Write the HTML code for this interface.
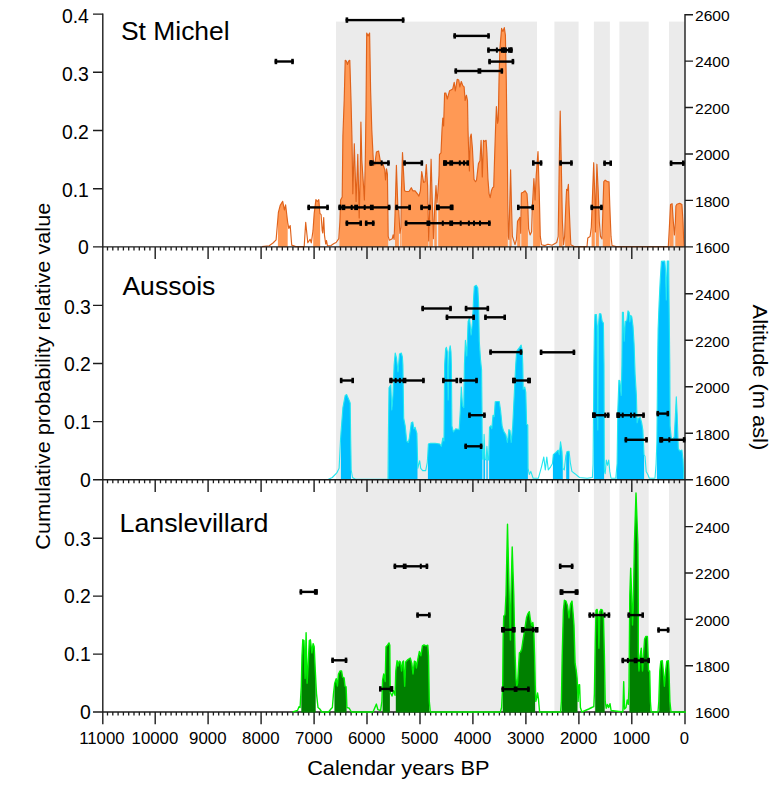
<!DOCTYPE html>
<html><head><meta charset="utf-8"><title>Cumulative probability</title>
<style>html,body{margin:0;padding:0;background:#fff}svg{display:block}</style>
</head><body>
<svg width="781" height="789" viewBox="0 0 781 789">
<rect x="0" y="0" width="781" height="789" fill="#ffffff"/>
<g fill="#ebebeb">
<rect x="336" y="21.6" width="201" height="690.4"/>
<rect x="554.4" y="21.6" width="24.2" height="690.4"/>
<rect x="593.9" y="21.6" width="16" height="690.4"/>
<rect x="619.4" y="21.6" width="29.3" height="690.4"/>
<rect x="669" y="21.6" width="15.9" height="690.4"/>
</g>
<defs>
<clipPath id="c0">
<rect x="277.9" y="0" width="9.8" height="789"/>
<rect x="313.2" y="0" width="7" height="789"/>
<rect x="339.4" y="0" width="48.8" height="789"/>
<rect x="395" y="0" width="3.9" height="789"/>
<rect x="400.1" y="0" width="0.8" height="789"/>
<rect x="401.4" y="0" width="27" height="789"/>
<rect x="429.2" y="0" width="3.7" height="789"/>
<rect x="434.3" y="0" width="2.5" height="789"/>
<rect x="438.2" y="0" width="69.6" height="789"/>
<rect x="509.5" y="0" width="2.2" height="789"/>
<rect x="517.2" y="0" width="3.1" height="789"/>
<rect x="521.3" y="0" width="6.6" height="789"/>
<rect x="533.1" y="0" width="7.2" height="789"/>
<rect x="559" y="0" width="3.6" height="789"/>
<rect x="565.1" y="0" width="5.2" height="789"/>
<rect x="591.6" y="0" width="3.2" height="789"/>
<rect x="595.9" y="0" width="3" height="789"/>
<rect x="602.8" y="0" width="7.6" height="789"/>
<rect x="669.3" y="0" width="4.2" height="789"/>
<rect x="675.3" y="0" width="8.2" height="789"/>
</clipPath>
<clipPath id="c1">
<rect x="340.9" y="0" width="10.1" height="789"/>
<rect x="388.2" y="0" width="29.3" height="789"/>
<rect x="427.9" y="0" width="54.5" height="789"/>
<rect x="483.4" y="0" width="1.6" height="789"/>
<rect x="486.4" y="0" width="1.3" height="789"/>
<rect x="489.1" y="0" width="38.8" height="789"/>
<rect x="552.9" y="0" width="9.9" height="789"/>
<rect x="566.2" y="0" width="3.1" height="789"/>
<rect x="593.8" y="0" width="10.3" height="789"/>
<rect x="616.6" y="0" width="27.5" height="789"/>
<rect x="656.8" y="0" width="26.8" height="789"/>
</clipPath>
<clipPath id="c2">
<rect x="301.3" y="0" width="14.4" height="789"/>
<rect x="334.4" y="0" width="12.2" height="789"/>
<rect x="382.6" y="0" width="7.3" height="789"/>
<rect x="395.8" y="0" width="33.5" height="789"/>
<rect x="502.7" y="0" width="32.4" height="789"/>
<rect x="561.7" y="0" width="15.8" height="789"/>
<rect x="595.2" y="0" width="9.5" height="789"/>
<rect x="629.4" y="0" width="21" height="789"/>
<rect x="659.2" y="0" width="10.7" height="789"/>
</clipPath>
</defs>
<polygon points="262,247.2 262,246.6 269.2,245.8 273,243 276.1,239.9 278.4,212.3 280.2,205.4 282.7,201.3 284.4,210 285.6,204.8 287.7,222.6 288.8,228.4 290.2,225.5 291.7,245.1 295.7,246.6 304.2,246.6 304.6,240 305.7,222.4 307.8,242.8 310.1,239.3 311.3,242.8 313,230.7 314.2,213.4 315.9,199.6 317.3,201.5 318.8,199.6 319.9,213.4 321.1,214.6 322.2,230.7 322.8,233 323.7,217.5 324.5,235.3 325.7,244 326.5,240.5 327.4,245.7 331,245.5 334,243.5 336.1,242.5 338.8,238.7 339.9,221.2 340.6,199.9 342.2,196.9 342.9,136 344.2,100 345.2,60.3 346.3,61 347.5,64.5 348.7,61 349.8,60.3 351,100 352,140 352.8,193.8 354.3,143.7 356.1,201.4 357.8,154.3 359.2,218 360.3,170 360.9,122.1 361.8,160 363.2,181 364.4,200 365.3,160 366,110 366.7,33 368.1,36 369.6,33 370.6,90 371.8,130 373.3,160.4 374.8,165 376.4,152 378.6,151 380.2,160.4 382.4,162.7 384.7,169.5 385.5,180 386.5,168.8 387.4,174 388.2,236.4 389.3,240.2 392.3,238.7 393.1,234.9 394.1,239.4 395,215 396.4,165.3 397.9,209 398.8,210.5 399.9,233.3 401,227.3 401.4,190.8 402.5,152.5 404.5,190.8 406,191.5 409,191.5 411.3,187.7 412.8,190.8 415.1,190.8 417.4,193.8 418.9,196.1 420.4,190.8 421.7,171.5 423.6,182.4 425,181.7 426.3,164.6 427.6,186 428.7,241 430,200 431.1,159.2 432.2,198.4 433.4,238.7 434.8,206 436,185.5 437,203 437.9,192.3 439,175.6 439.5,154.3 441,152.8 442,130 442.8,118 443.6,126 444.6,93 445.8,93 447.3,99 449.6,90.7 452.7,89.1 454.2,82.3 455.3,91 457.2,79.3 458.8,80 459.8,87 461.3,81.5 462.6,85.3 464.1,86.9 465.1,100.5 466.4,95.2 467.5,100.5 468,130 468.9,157.4 469.4,171 470.2,137.6 471.2,134 472.4,148.2 474,179.4 475.5,181.7 476.5,180.2 478.5,163.4 480,160.4 481.1,140.3 482.3,177 483.5,140.3 484.6,141.4 486.1,140.3 486.9,152.8 487.9,178.6 489.1,193.8 490.2,197.6 491.4,190.8 492.6,187.8 493.7,187 494.5,160.4 495.5,130 496.4,106.6 497.5,123.3 498.3,120 499,80.8 499.8,50.4 501.6,28.4 502.9,31.5 504.3,27.6 505.4,35.2 506.3,80.8 506.9,130 507.4,160.4 507.8,206 508.4,236.4 508.9,239.4 509.7,206 510.6,169.8 511.5,206 512.4,236.4 515,244.7 516.5,239.4 517.5,221.2 519,218.9 519.9,217.4 520.7,233.3 521.4,193 523.2,192.3 525.1,190.8 527,193.8 527.8,206 528.6,228.8 530.1,234.9 531.6,231.8 532.4,206 533.9,178.6 535.1,199.9 536.2,175.6 538,151.6 539.2,190.8 540.3,236.4 541.5,244.7 545,245.6 548,244.2 552,245.2 556.7,242.5 558.2,236.4 559.3,160.4 560.2,111 561.2,160.4 562.4,221.2 563.5,244.7 564.6,236.4 565.8,206 566.6,189.3 567.5,190.5 568.4,184.4 569.1,206 570,227.3 570.8,244.7 574,246.6 587,246.6 587.8,237.9 590.1,236.4 591.3,227.3 592.4,198.4 593.7,162.7 594.8,195 595.4,232 596.1,195 596.9,164.2 598.2,190.8 599.3,221.2 600.5,236.4 602,239 603,206 603.8,181.7 605.2,180.2 607.5,181.7 609,181.7 609.8,206 611,236.4 612,245.5 616,246.6 668.3,246.6 669.3,228.8 670.5,204.5 672.1,203.7 673.3,221.2 674.4,235 675.4,222 675.9,206 676.9,204.2 679.7,203.3 681.9,204.5 683,221.2 683.9,245.5 684.5,246.6 684.5,247.2" fill="#ff9955" clip-path="url(#c0)"/>
<polyline points="262,246.6 269.2,245.8 273,243 276.1,239.9 278.4,212.3 280.2,205.4 282.7,201.3 284.4,210 285.6,204.8 287.7,222.6 288.8,228.4 290.2,225.5 291.7,245.1 295.7,246.6 304.2,246.6 304.6,240 305.7,222.4 307.8,242.8 310.1,239.3 311.3,242.8 313,230.7 314.2,213.4 315.9,199.6 317.3,201.5 318.8,199.6 319.9,213.4 321.1,214.6 322.2,230.7 322.8,233 323.7,217.5 324.5,235.3 325.7,244 326.5,240.5 327.4,245.7 331,245.5 334,243.5 336.1,242.5 338.8,238.7 339.9,221.2 340.6,199.9 342.2,196.9 342.9,136 344.2,100 345.2,60.3 346.3,61 347.5,64.5 348.7,61 349.8,60.3 351,100 352,140 352.8,193.8 354.3,143.7 356.1,201.4 357.8,154.3 359.2,218 360.3,170 360.9,122.1 361.8,160 363.2,181 364.4,200 365.3,160 366,110 366.7,33 368.1,36 369.6,33 370.6,90 371.8,130 373.3,160.4 374.8,165 376.4,152 378.6,151 380.2,160.4 382.4,162.7 384.7,169.5 385.5,180 386.5,168.8 387.4,174 388.2,236.4 389.3,240.2 392.3,238.7 393.1,234.9 394.1,239.4 395,215 396.4,165.3 397.9,209 398.8,210.5 399.9,233.3 401,227.3 401.4,190.8 402.5,152.5 404.5,190.8 406,191.5 409,191.5 411.3,187.7 412.8,190.8 415.1,190.8 417.4,193.8 418.9,196.1 420.4,190.8 421.7,171.5 423.6,182.4 425,181.7 426.3,164.6 427.6,186 428.7,241 430,200 431.1,159.2 432.2,198.4 433.4,238.7 434.8,206 436,185.5 437,203 437.9,192.3 439,175.6 439.5,154.3 441,152.8 442,130 442.8,118 443.6,126 444.6,93 445.8,93 447.3,99 449.6,90.7 452.7,89.1 454.2,82.3 455.3,91 457.2,79.3 458.8,80 459.8,87 461.3,81.5 462.6,85.3 464.1,86.9 465.1,100.5 466.4,95.2 467.5,100.5 468,130 468.9,157.4 469.4,171 470.2,137.6 471.2,134 472.4,148.2 474,179.4 475.5,181.7 476.5,180.2 478.5,163.4 480,160.4 481.1,140.3 482.3,177 483.5,140.3 484.6,141.4 486.1,140.3 486.9,152.8 487.9,178.6 489.1,193.8 490.2,197.6 491.4,190.8 492.6,187.8 493.7,187 494.5,160.4 495.5,130 496.4,106.6 497.5,123.3 498.3,120 499,80.8 499.8,50.4 501.6,28.4 502.9,31.5 504.3,27.6 505.4,35.2 506.3,80.8 506.9,130 507.4,160.4 507.8,206 508.4,236.4 508.9,239.4 509.7,206 510.6,169.8 511.5,206 512.4,236.4 515,244.7 516.5,239.4 517.5,221.2 519,218.9 519.9,217.4 520.7,233.3 521.4,193 523.2,192.3 525.1,190.8 527,193.8 527.8,206 528.6,228.8 530.1,234.9 531.6,231.8 532.4,206 533.9,178.6 535.1,199.9 536.2,175.6 538,151.6 539.2,190.8 540.3,236.4 541.5,244.7 545,245.6 548,244.2 552,245.2 556.7,242.5 558.2,236.4 559.3,160.4 560.2,111 561.2,160.4 562.4,221.2 563.5,244.7 564.6,236.4 565.8,206 566.6,189.3 567.5,190.5 568.4,184.4 569.1,206 570,227.3 570.8,244.7 574,246.6 587,246.6 587.8,237.9 590.1,236.4 591.3,227.3 592.4,198.4 593.7,162.7 594.8,195 595.4,232 596.1,195 596.9,164.2 598.2,190.8 599.3,221.2 600.5,236.4 602,239 603,206 603.8,181.7 605.2,180.2 607.5,181.7 609,181.7 609.8,206 611,236.4 612,245.5 616,246.6 668.3,246.6 669.3,228.8 670.5,204.5 672.1,203.7 673.3,221.2 674.4,235 675.4,222 675.9,206 676.9,204.2 679.7,203.3 681.9,204.5 683,221.2 683.9,245.5 684.5,246.6" fill="none" stroke="#e0621a" stroke-width="1.15" stroke-linejoin="round"/>
<polygon points="328,480 328,479.4 332.3,477.5 336.8,472.9 339.1,468.3 340.6,438 342.9,407.6 345.2,395.4 346.7,394.6 349,400 350.2,403 350.7,440 351.2,470 352.5,477.5 355.8,479.4 388,479.4 388.3,440 389,387.8 390.8,384.8 391.8,410 393,395 394.1,365 395.2,353 396.5,358 398,372 399.5,354 401.3,353 402.4,357 402.9,365 403.7,418.2 405.2,425.8 406.7,441 408.3,442.5 409.3,438 411.3,422.8 412.8,422 413.9,428.8 415.1,427.3 416.9,433.4 417.8,468.3 419.7,460.7 420.7,468.3 422.7,470.6 425.7,470.6 427.3,462.3 428.4,444 430.6,443.3 435.2,443.3 439.8,444 441.3,446.3 442.8,438 444,441 444.6,365 445.6,349 446.4,347.3 447.4,352 448.2,400 449,352 450.2,345.7 451,352 451.4,365 451.9,425.8 453.4,431.9 455.7,428.8 459.2,429.6 460.3,410.6 461.3,387 462.6,406 463.8,407.6 464.4,365 465.4,340.4 466.8,356 468.1,321.4 469.5,318 471.1,335 472.5,322 473.5,300 474.3,286.5 476.3,285.3 477.8,288 478.6,303.2 479.3,341.2 480.5,359.4 481.6,370 482.3,441 482.6,459.2 483.4,459.2 484.1,434.2 485,459.2 486.2,460 486.9,446.3 487.9,460 488.7,460 489.5,427.3 490.7,425.8 491.8,428.8 493,415.2 494.2,416.7 495.2,401.8 497.5,401.5 499.3,401.5 500.6,410.6 502.1,425.8 503.6,431.1 505.9,434.9 507.4,442.5 508.9,429.6 510,430.4 511.2,442.5 512.7,425.8 514.2,395.4 515.7,365 516.6,352 517.3,350.3 519.6,347.3 521.1,345 522.2,350.3 522.8,365 523.2,389.3 524.8,387 525.8,392.4 526.6,424.3 527.8,425 528.1,468.3 529.3,474.4 530.8,471.4 533.1,478.2 538.4,478.2 541.5,466.8 543.8,457 545.3,469.9 546.8,457 548.3,469.9 550.6,466.8 552.4,463.8 553.3,454.7 555.9,452.4 558.2,450.1 559.3,454.7 560.5,441.7 562,451.6 562.8,468.3 564.3,469.9 565.8,456.2 567,451.6 569.1,451.3 570.3,462.3 571.9,471.4 574.9,473.7 579.5,477.5 587.1,478.2 592.4,477.5 593.1,463.8 593.9,365 594.4,330 595,314.6 596.4,314.6 597.2,326 597.8,430 598.4,326 599.4,313.8 600.9,313.8 602.2,321.4 603.4,323 604,365 604.4,471.4 605.2,473.7 606.3,460 607.5,465.3 608.7,460 609.8,471.4 611,478.2 615.8,478.2 617.1,463.8 617.8,410.6 618.9,380.2 619.9,381 621.2,395.4 621.9,365 622.4,312.3 623.4,312.3 624.2,341.2 625.3,321.4 626.8,320.7 628,310.8 629.2,312.3 629.9,322 630.7,315.3 631.8,316.9 633,326 634.1,344.2 634.8,365 635.1,374 636.4,395.4 637.1,422.8 638.3,418.2 640.2,417.4 641.7,422.8 642.9,430.4 644,454.7 645,456.2 646.2,471.4 647.8,474.4 649.3,478.2 655,478.2 656.1,463.8 656.9,441 657.6,365 658.1,329 659.1,303.2 660.2,280.4 661.4,261.4 664.8,261 665.5,269.8 666.3,300 667.2,261 668.7,261 669,295.6 669.8,365 670.1,425.8 671.3,438 672.8,439.5 674.3,436.4 675.4,415 676.3,396.9 677.2,415 678.3,448.6 679.7,450.9 681.9,450.1 683,459.2 683.9,478.2 684.5,479.4 684.5,480" fill="#00bfff" clip-path="url(#c1)"/>
<polyline points="328,479.4 332.3,477.5 336.8,472.9 339.1,468.3 340.6,438 342.9,407.6 345.2,395.4 346.7,394.6 349,400 350.2,403 350.7,440 351.2,470 352.5,477.5 355.8,479.4 388,479.4 388.3,440 389,387.8 390.8,384.8 391.8,410 393,395 394.1,365 395.2,353 396.5,358 398,372 399.5,354 401.3,353 402.4,357 402.9,365 403.7,418.2 405.2,425.8 406.7,441 408.3,442.5 409.3,438 411.3,422.8 412.8,422 413.9,428.8 415.1,427.3 416.9,433.4 417.8,468.3 419.7,460.7 420.7,468.3 422.7,470.6 425.7,470.6 427.3,462.3 428.4,444 430.6,443.3 435.2,443.3 439.8,444 441.3,446.3 442.8,438 444,441 444.6,365 445.6,349 446.4,347.3 447.4,352 448.2,400 449,352 450.2,345.7 451,352 451.4,365 451.9,425.8 453.4,431.9 455.7,428.8 459.2,429.6 460.3,410.6 461.3,387 462.6,406 463.8,407.6 464.4,365 465.4,340.4 466.8,356 468.1,321.4 469.5,318 471.1,335 472.5,322 473.5,300 474.3,286.5 476.3,285.3 477.8,288 478.6,303.2 479.3,341.2 480.5,359.4 481.6,370 482.3,441 482.6,459.2 483.4,459.2 484.1,434.2 485,459.2 486.2,460 486.9,446.3 487.9,460 488.7,460 489.5,427.3 490.7,425.8 491.8,428.8 493,415.2 494.2,416.7 495.2,401.8 497.5,401.5 499.3,401.5 500.6,410.6 502.1,425.8 503.6,431.1 505.9,434.9 507.4,442.5 508.9,429.6 510,430.4 511.2,442.5 512.7,425.8 514.2,395.4 515.7,365 516.6,352 517.3,350.3 519.6,347.3 521.1,345 522.2,350.3 522.8,365 523.2,389.3 524.8,387 525.8,392.4 526.6,424.3 527.8,425 528.1,468.3 529.3,474.4 530.8,471.4 533.1,478.2 538.4,478.2 541.5,466.8 543.8,457 545.3,469.9 546.8,457 548.3,469.9 550.6,466.8 552.4,463.8 553.3,454.7 555.9,452.4 558.2,450.1 559.3,454.7 560.5,441.7 562,451.6 562.8,468.3 564.3,469.9 565.8,456.2 567,451.6 569.1,451.3 570.3,462.3 571.9,471.4 574.9,473.7 579.5,477.5 587.1,478.2 592.4,477.5 593.1,463.8 593.9,365 594.4,330 595,314.6 596.4,314.6 597.2,326 597.8,430 598.4,326 599.4,313.8 600.9,313.8 602.2,321.4 603.4,323 604,365 604.4,471.4 605.2,473.7 606.3,460 607.5,465.3 608.7,460 609.8,471.4 611,478.2 615.8,478.2 617.1,463.8 617.8,410.6 618.9,380.2 619.9,381 621.2,395.4 621.9,365 622.4,312.3 623.4,312.3 624.2,341.2 625.3,321.4 626.8,320.7 628,310.8 629.2,312.3 629.9,322 630.7,315.3 631.8,316.9 633,326 634.1,344.2 634.8,365 635.1,374 636.4,395.4 637.1,422.8 638.3,418.2 640.2,417.4 641.7,422.8 642.9,430.4 644,454.7 645,456.2 646.2,471.4 647.8,474.4 649.3,478.2 655,478.2 656.1,463.8 656.9,441 657.6,365 658.1,329 659.1,303.2 660.2,280.4 661.4,261.4 664.8,261 665.5,269.8 666.3,300 667.2,261 668.7,261 669,295.6 669.8,365 670.1,425.8 671.3,438 672.8,439.5 674.3,436.4 675.4,415 676.3,396.9 677.2,415 678.3,448.6 679.7,450.9 681.9,450.1 683,459.2 683.9,478.2 684.5,479.4" fill="none" stroke="#22e6f0" stroke-width="1.1" stroke-linejoin="round"/>
<g stroke="#1c1c1c" stroke-width="1.4" fill="none" stroke-linecap="butt">
<path d="M102.8 13.4 V724.2"/>
<path d="M685 14.1 V724.2"/>
<path d="M102.8 246.9 H685"/>
<path d="M102.8 479.8 H685"/>
<path d="M102.8 712 H685"/>
<path d="M93 246.9 H102.8 M93 188.7 H102.8 M93 130.5 H102.8 M93 72.3 H102.8 M93 14.1 H102.8 M93 479.8 H102.8 M93 421.6 H102.8 M93 363.5 H102.8 M93 305.4 H102.8 M93 712 H102.8 M93 654.1 H102.8 M93 596.1 H102.8 M93 538.2 H102.8 M685 246.9 H693 M685 200.4 H693 M685 154 H693 M685 107.5 H693 M685 61.1 H693 M685 14.7 H693 M685 479.8 H693 M685 433.2 H693 M685 386.8 H693 M685 340.2 H693 M685 293.8 H693 M685 665.7 H693 M685 619.3 H693 M685 573 H693 M685 526.6 H693"/>
<path d="M155.2 246.9 V259.1 M208.1 246.9 V259.1 M261.1 246.9 V259.1 M314.1 246.9 V259.1 M367 246.9 V259.1 M420 246.9 V259.1 M472.9 246.9 V259.1 M525.9 246.9 V259.1 M578.9 246.9 V259.1 M631.8 246.9 V259.1 M155.2 479.8 V491.9 M208.1 479.8 V491.9 M261.1 479.8 V491.9 M314.1 479.8 V491.9 M367 479.8 V491.9 M420 479.8 V491.9 M472.9 479.8 V491.9 M525.9 479.8 V491.9 M578.9 479.8 V491.9 M631.8 479.8 V491.9 M155.2 712 V724.2 M208.1 712 V724.2 M261.1 712 V724.2 M314.1 712 V724.2 M367 712 V724.2 M420 712 V724.2 M472.9 712 V724.2 M525.9 712 V724.2 M578.9 712 V724.2 M631.8 712 V724.2"/>
<path d="M107.5 246.9 V250.4 M112.8 246.9 V250.4 M118.1 246.9 V250.4 M123.4 246.9 V250.4 M128.7 246.9 V250.4 M134 246.9 V250.4 M139.3 246.9 V250.4 M144.6 246.9 V250.4 M149.9 246.9 V250.4 M160.5 246.9 V250.4 M165.8 246.9 V250.4 M171.1 246.9 V250.4 M176.3 246.9 V250.4 M181.6 246.9 V250.4 M186.9 246.9 V250.4 M192.2 246.9 V250.4 M197.5 246.9 V250.4 M202.8 246.9 V250.4 M213.4 246.9 V250.4 M218.7 246.9 V250.4 M224 246.9 V250.4 M229.3 246.9 V250.4 M234.6 246.9 V250.4 M239.9 246.9 V250.4 M245.2 246.9 V250.4 M250.5 246.9 V250.4 M255.8 246.9 V250.4 M266.4 246.9 V250.4 M271.7 246.9 V250.4 M277 246.9 V250.4 M282.3 246.9 V250.4 M287.6 246.9 V250.4 M292.9 246.9 V250.4 M298.2 246.9 V250.4 M303.5 246.9 V250.4 M308.8 246.9 V250.4 M319.4 246.9 V250.4 M324.6 246.9 V250.4 M329.9 246.9 V250.4 M335.2 246.9 V250.4 M340.5 246.9 V250.4 M345.8 246.9 V250.4 M351.1 246.9 V250.4 M356.4 246.9 V250.4 M361.7 246.9 V250.4 M372.3 246.9 V250.4 M377.6 246.9 V250.4 M382.9 246.9 V250.4 M388.2 246.9 V250.4 M393.5 246.9 V250.4 M398.8 246.9 V250.4 M404.1 246.9 V250.4 M409.4 246.9 V250.4 M414.7 246.9 V250.4 M425.3 246.9 V250.4 M430.6 246.9 V250.4 M435.9 246.9 V250.4 M441.2 246.9 V250.4 M446.5 246.9 V250.4 M451.8 246.9 V250.4 M457.1 246.9 V250.4 M462.4 246.9 V250.4 M467.6 246.9 V250.4 M478.2 246.9 V250.4 M483.5 246.9 V250.4 M488.8 246.9 V250.4 M494.1 246.9 V250.4 M499.4 246.9 V250.4 M504.7 246.9 V250.4 M510 246.9 V250.4 M515.3 246.9 V250.4 M520.6 246.9 V250.4 M531.2 246.9 V250.4 M536.5 246.9 V250.4 M541.8 246.9 V250.4 M547.1 246.9 V250.4 M552.4 246.9 V250.4 M557.7 246.9 V250.4 M563 246.9 V250.4 M568.3 246.9 V250.4 M573.6 246.9 V250.4 M584.2 246.9 V250.4 M589.5 246.9 V250.4 M594.8 246.9 V250.4 M600.1 246.9 V250.4 M605.4 246.9 V250.4 M610.7 246.9 V250.4 M615.9 246.9 V250.4 M621.2 246.9 V250.4 M626.5 246.9 V250.4 M637.1 246.9 V250.4 M642.4 246.9 V250.4 M647.7 246.9 V250.4 M653 246.9 V250.4 M658.3 246.9 V250.4 M663.6 246.9 V250.4 M668.9 246.9 V250.4 M674.2 246.9 V250.4 M679.5 246.9 V250.4 M107.5 479.8 V483.2 M112.8 479.8 V483.2 M118.1 479.8 V483.2 M123.4 479.8 V483.2 M128.7 479.8 V483.2 M134 479.8 V483.2 M139.3 479.8 V483.2 M144.6 479.8 V483.2 M149.9 479.8 V483.2 M160.5 479.8 V483.2 M165.8 479.8 V483.2 M171.1 479.8 V483.2 M176.3 479.8 V483.2 M181.6 479.8 V483.2 M186.9 479.8 V483.2 M192.2 479.8 V483.2 M197.5 479.8 V483.2 M202.8 479.8 V483.2 M213.4 479.8 V483.2 M218.7 479.8 V483.2 M224 479.8 V483.2 M229.3 479.8 V483.2 M234.6 479.8 V483.2 M239.9 479.8 V483.2 M245.2 479.8 V483.2 M250.5 479.8 V483.2 M255.8 479.8 V483.2 M266.4 479.8 V483.2 M271.7 479.8 V483.2 M277 479.8 V483.2 M282.3 479.8 V483.2 M287.6 479.8 V483.2 M292.9 479.8 V483.2 M298.2 479.8 V483.2 M303.5 479.8 V483.2 M308.8 479.8 V483.2 M319.4 479.8 V483.2 M324.6 479.8 V483.2 M329.9 479.8 V483.2 M335.2 479.8 V483.2 M340.5 479.8 V483.2 M345.8 479.8 V483.2 M351.1 479.8 V483.2 M356.4 479.8 V483.2 M361.7 479.8 V483.2 M372.3 479.8 V483.2 M377.6 479.8 V483.2 M382.9 479.8 V483.2 M388.2 479.8 V483.2 M393.5 479.8 V483.2 M398.8 479.8 V483.2 M404.1 479.8 V483.2 M409.4 479.8 V483.2 M414.7 479.8 V483.2 M425.3 479.8 V483.2 M430.6 479.8 V483.2 M435.9 479.8 V483.2 M441.2 479.8 V483.2 M446.5 479.8 V483.2 M451.8 479.8 V483.2 M457.1 479.8 V483.2 M462.4 479.8 V483.2 M467.6 479.8 V483.2 M478.2 479.8 V483.2 M483.5 479.8 V483.2 M488.8 479.8 V483.2 M494.1 479.8 V483.2 M499.4 479.8 V483.2 M504.7 479.8 V483.2 M510 479.8 V483.2 M515.3 479.8 V483.2 M520.6 479.8 V483.2 M531.2 479.8 V483.2 M536.5 479.8 V483.2 M541.8 479.8 V483.2 M547.1 479.8 V483.2 M552.4 479.8 V483.2 M557.7 479.8 V483.2 M563 479.8 V483.2 M568.3 479.8 V483.2 M573.6 479.8 V483.2 M584.2 479.8 V483.2 M589.5 479.8 V483.2 M594.8 479.8 V483.2 M600.1 479.8 V483.2 M605.4 479.8 V483.2 M610.7 479.8 V483.2 M615.9 479.8 V483.2 M621.2 479.8 V483.2 M626.5 479.8 V483.2 M637.1 479.8 V483.2 M642.4 479.8 V483.2 M647.7 479.8 V483.2 M653 479.8 V483.2 M658.3 479.8 V483.2 M663.6 479.8 V483.2 M668.9 479.8 V483.2 M674.2 479.8 V483.2 M679.5 479.8 V483.2 M107.5 712 V715.5 M112.8 712 V715.5 M118.1 712 V715.5 M123.4 712 V715.5 M128.7 712 V715.5 M134 712 V715.5 M139.3 712 V715.5 M144.6 712 V715.5 M149.9 712 V715.5 M160.5 712 V715.5 M165.8 712 V715.5 M171.1 712 V715.5 M176.3 712 V715.5 M181.6 712 V715.5 M186.9 712 V715.5 M192.2 712 V715.5 M197.5 712 V715.5 M202.8 712 V715.5 M213.4 712 V715.5 M218.7 712 V715.5 M224 712 V715.5 M229.3 712 V715.5 M234.6 712 V715.5 M239.9 712 V715.5 M245.2 712 V715.5 M250.5 712 V715.5 M255.8 712 V715.5 M266.4 712 V715.5 M271.7 712 V715.5 M277 712 V715.5 M282.3 712 V715.5 M287.6 712 V715.5 M292.9 712 V715.5 M298.2 712 V715.5 M303.5 712 V715.5 M308.8 712 V715.5 M319.4 712 V715.5 M324.6 712 V715.5 M329.9 712 V715.5 M335.2 712 V715.5 M340.5 712 V715.5 M345.8 712 V715.5 M351.1 712 V715.5 M356.4 712 V715.5 M361.7 712 V715.5 M372.3 712 V715.5 M377.6 712 V715.5 M382.9 712 V715.5 M388.2 712 V715.5 M393.5 712 V715.5 M398.8 712 V715.5 M404.1 712 V715.5 M409.4 712 V715.5 M414.7 712 V715.5 M425.3 712 V715.5 M430.6 712 V715.5 M435.9 712 V715.5 M441.2 712 V715.5 M446.5 712 V715.5 M451.8 712 V715.5 M457.1 712 V715.5 M462.4 712 V715.5 M467.6 712 V715.5 M478.2 712 V715.5 M483.5 712 V715.5 M488.8 712 V715.5 M494.1 712 V715.5 M499.4 712 V715.5 M504.7 712 V715.5 M510 712 V715.5 M515.3 712 V715.5 M520.6 712 V715.5 M531.2 712 V715.5 M536.5 712 V715.5 M541.8 712 V715.5 M547.1 712 V715.5 M552.4 712 V715.5 M557.7 712 V715.5 M563 712 V715.5 M568.3 712 V715.5 M573.6 712 V715.5 M584.2 712 V715.5 M589.5 712 V715.5 M594.8 712 V715.5 M600.1 712 V715.5 M605.4 712 V715.5 M610.7 712 V715.5 M615.9 712 V715.5 M621.2 712 V715.5 M626.5 712 V715.5 M637.1 712 V715.5 M642.4 712 V715.5 M647.7 712 V715.5 M653 712 V715.5 M658.3 712 V715.5 M663.6 712 V715.5 M668.9 712 V715.5 M674.2 712 V715.5 M679.5 712 V715.5" stroke-width="1.3"/>
</g>
<polygon points="292.6,712.6 292.6,712 297.5,710.5 299,706.7 300.1,707.5 301.3,686.2 302,655.8 302.8,639.8 304,640.6 305.1,678.6 306.1,632.7 307.1,683.2 308.2,665 309.3,640.6 310.4,639.8 311.9,652.8 313.1,643.6 314.2,646.7 315.3,671 316.5,693.8 318,707.5 319.8,709 321.8,712 328.6,712 330.9,709 332.4,707.5 333.5,693.8 334.7,683.2 336.2,678.6 337.4,686 338.5,674 340,671 341.6,671 342.6,677.1 344.1,677.8 345,686.2 346.1,686.9 346.9,707.5 349.1,708.2 351.4,712 373,712 376.4,704.1 377.9,709.7 380.6,710.5 381.9,701.4 382.6,680.1 383.7,674 385.2,681.6 386,646.7 387.5,645.2 389,642.9 389.8,645.2 390.2,692.3 392,696 393.6,690.7 395.1,695.3 395.8,671 397.1,660.7 398.1,666 399.2,661.1 400.4,662 401.6,671 402.7,661.9 403.5,661 404.7,686.2 405.7,661.9 408,659.6 410.3,658.1 411.8,663.4 413,674 414.4,661.1 415.6,661.9 416.4,668 417.9,658.8 419.4,651.5 420.9,655.8 422.4,645.9 424,644.9 425.9,645.9 427.8,645.2 428.5,655.8 429.3,701.4 430.3,712 500.4,712 501.6,707.5 502.7,686.2 503.1,640.6 503.7,616.3 505,614.8 506,595 507.5,524.2 509.2,595 510.4,640 511,595 512.2,547 513.8,595 514.4,625.4 515.1,655.8 516,678.6 516.8,686.2 517.6,683 518.3,671 519.4,652.8 520.5,652 521.7,649 522.9,640.6 524.4,631.5 526.5,617.8 527.8,614 529.3,611.7 530.3,619.3 531.6,625.4 532.8,622.4 533.8,630 534.6,655.8 535.3,686.2 535.8,701.4 536.6,698.3 537.6,693 538.4,698.3 539.6,712 560.6,712 561.4,701.4 562.2,655.8 563.4,610.2 564.4,600.3 566,601.1 567.5,605.6 569,617.8 570.5,604.1 572,601.1 573.1,613.2 574,625.4 575.1,663.4 576.1,669.5 577.1,678.6 578.1,701.4 578.9,684.7 579.6,684.7 580.4,707.5 581.9,712 588.8,709 591.8,707.5 593.8,706.7 594.4,693.8 595.3,640.6 596,610.2 597.1,609.4 598.3,617.8 598.9,648.2 599.8,611.7 600.9,609.4 602.4,610.2 603.5,617.8 604.4,655.8 605.2,701.4 606.2,708.2 607.4,704.4 608.6,707.5 610,703.7 611.1,710.5 622.9,712 623.7,681.6 624.5,709 626,707.5 627.2,699.9 628.3,704.4 629,686.2 629.8,595 630.7,568.3 631.8,600 632.5,625 633.3,605 634.4,544 636,493 637.9,544 638.3,605 638.3,655.8 639,671 640.1,655.8 641.3,648.2 642.5,671 643.5,655 644.6,639.1 645.9,636.4 647.4,636.4 648.1,655.8 648.6,671 649.7,671 650.4,701.5 651.2,712 658,712 658.8,701.5 659.8,671 660.8,661.2 662.3,660.7 663.3,671 664.4,686.2 665.6,671 666.8,661.2 668.4,660.7 669,671 669.9,701.5 671,712 686,712 686,712.6" fill="#008000" clip-path="url(#c2)"/>
<polyline points="292.6,712 297.5,710.5 299,706.7 300.1,707.5 301.3,686.2 302,655.8 302.8,639.8 304,640.6 305.1,678.6 306.1,632.7 307.1,683.2 308.2,665 309.3,640.6 310.4,639.8 311.9,652.8 313.1,643.6 314.2,646.7 315.3,671 316.5,693.8 318,707.5 319.8,709 321.8,712 328.6,712 330.9,709 332.4,707.5 333.5,693.8 334.7,683.2 336.2,678.6 337.4,686 338.5,674 340,671 341.6,671 342.6,677.1 344.1,677.8 345,686.2 346.1,686.9 346.9,707.5 349.1,708.2 351.4,712 373,712 376.4,704.1 377.9,709.7 380.6,710.5 381.9,701.4 382.6,680.1 383.7,674 385.2,681.6 386,646.7 387.5,645.2 389,642.9 389.8,645.2 390.2,692.3 392,696 393.6,690.7 395.1,695.3 395.8,671 397.1,660.7 398.1,666 399.2,661.1 400.4,662 401.6,671 402.7,661.9 403.5,661 404.7,686.2 405.7,661.9 408,659.6 410.3,658.1 411.8,663.4 413,674 414.4,661.1 415.6,661.9 416.4,668 417.9,658.8 419.4,651.5 420.9,655.8 422.4,645.9 424,644.9 425.9,645.9 427.8,645.2 428.5,655.8 429.3,701.4 430.3,712 500.4,712 501.6,707.5 502.7,686.2 503.1,640.6 503.7,616.3 505,614.8 506,595 507.5,524.2 509.2,595 510.4,640 511,595 512.2,547 513.8,595 514.4,625.4 515.1,655.8 516,678.6 516.8,686.2 517.6,683 518.3,671 519.4,652.8 520.5,652 521.7,649 522.9,640.6 524.4,631.5 526.5,617.8 527.8,614 529.3,611.7 530.3,619.3 531.6,625.4 532.8,622.4 533.8,630 534.6,655.8 535.3,686.2 535.8,701.4 536.6,698.3 537.6,693 538.4,698.3 539.6,712 560.6,712 561.4,701.4 562.2,655.8 563.4,610.2 564.4,600.3 566,601.1 567.5,605.6 569,617.8 570.5,604.1 572,601.1 573.1,613.2 574,625.4 575.1,663.4 576.1,669.5 577.1,678.6 578.1,701.4 578.9,684.7 579.6,684.7 580.4,707.5 581.9,712 588.8,709 591.8,707.5 593.8,706.7 594.4,693.8 595.3,640.6 596,610.2 597.1,609.4 598.3,617.8 598.9,648.2 599.8,611.7 600.9,609.4 602.4,610.2 603.5,617.8 604.4,655.8 605.2,701.4 606.2,708.2 607.4,704.4 608.6,707.5 610,703.7 611.1,710.5 622.9,712 623.7,681.6 624.5,709 626,707.5 627.2,699.9 628.3,704.4 629,686.2 629.8,595 630.7,568.3 631.8,600 632.5,625 633.3,605 634.4,544 636,493 637.9,544 638.3,605 638.3,655.8 639,671 640.1,655.8 641.3,648.2 642.5,671 643.5,655 644.6,639.1 645.9,636.4 647.4,636.4 648.1,655.8 648.6,671 649.7,671 650.4,701.5 651.2,712 658,712 658.8,701.5 659.8,671 660.8,661.2 662.3,660.7 663.3,671 664.4,686.2 665.6,671 666.8,661.2 668.4,660.7 669,671 669.9,701.5 671,712 686,712" fill="none" stroke="#00ee00" stroke-width="1.4" stroke-linejoin="round"/>
<g fill="#000000">
<rect x="345.6" y="18.9" width="58.8" height="2.4"/>
<rect x="345.6" y="17.4" width="2.6" height="5.4"/>
<rect x="401.8" y="17.4" width="2.6" height="5.4"/>
<rect x="453.4" y="34.7" width="36.4" height="2.4"/>
<rect x="453.4" y="33.2" width="2.6" height="5.4"/>
<rect x="487.2" y="33.2" width="2.6" height="5.4"/>
<rect x="487.2" y="48.9" width="25.5" height="2.4"/>
<rect x="487.2" y="47.4" width="2.6" height="5.4"/>
<rect x="510.1" y="47.4" width="2.6" height="5.4"/>
<rect x="495.9" y="47.5" width="2" height="5.2"/>
<rect x="500.9" y="47.4" width="3.8" height="5.4"/>
<rect x="503.1" y="47.4" width="3.8" height="5.4"/>
<rect x="508.1" y="47.4" width="3.8" height="5.4"/>
<rect x="488.3" y="60.4" width="25.9" height="2.4"/>
<rect x="488.3" y="58.9" width="2.6" height="5.4"/>
<rect x="511.6" y="58.9" width="2.6" height="5.4"/>
<rect x="274.6" y="60.3" width="19.2" height="2.4"/>
<rect x="274.6" y="58.8" width="2.6" height="5.4"/>
<rect x="291.2" y="58.8" width="2.6" height="5.4"/>
<rect x="454.5" y="69.8" width="48.6" height="2.4"/>
<rect x="454.5" y="68.3" width="2.6" height="5.4"/>
<rect x="500.5" y="68.3" width="2.6" height="5.4"/>
<rect x="477.5" y="68.3" width="3.8" height="5.4"/>
<rect x="369.4" y="161.8" width="20.3" height="2.4"/>
<rect x="369.4" y="160.3" width="2.6" height="5.4"/>
<rect x="387.1" y="160.3" width="2.6" height="5.4"/>
<rect x="380.7" y="160.4" width="2" height="5.2"/>
<rect x="369.9" y="160.3" width="3.8" height="5.4"/>
<rect x="403.3" y="161.8" width="19.8" height="2.4"/>
<rect x="403.3" y="160.3" width="2.6" height="5.4"/>
<rect x="420.5" y="160.3" width="2.6" height="5.4"/>
<rect x="443.2" y="161.8" width="25.8" height="2.4"/>
<rect x="443.2" y="160.3" width="2.6" height="5.4"/>
<rect x="466.4" y="160.3" width="2.6" height="5.4"/>
<rect x="458.8" y="160.4" width="2" height="5.2"/>
<rect x="463" y="160.4" width="2" height="5.2"/>
<rect x="443.3" y="160.3" width="3.8" height="5.4"/>
<rect x="449.3" y="160.3" width="3.8" height="5.4"/>
<rect x="532" y="161.8" width="10.3" height="2.4"/>
<rect x="532" y="160.3" width="2.6" height="5.4"/>
<rect x="539.7" y="160.3" width="2.6" height="5.4"/>
<rect x="559.3" y="161.8" width="13.4" height="2.4"/>
<rect x="559.3" y="160.3" width="2.6" height="5.4"/>
<rect x="570.1" y="160.3" width="2.6" height="5.4"/>
<rect x="603.3" y="162" width="8.7" height="2.4"/>
<rect x="603.3" y="160.5" width="2.6" height="5.4"/>
<rect x="609.4" y="160.5" width="2.6" height="5.4"/>
<rect x="669.8" y="162" width="14.8" height="2.4"/>
<rect x="669.8" y="160.5" width="2.6" height="5.4"/>
<rect x="682" y="160.5" width="2.6" height="5.4"/>
<rect x="307.4" y="206.2" width="21.4" height="2.4"/>
<rect x="307.4" y="204.7" width="2.6" height="5.4"/>
<rect x="326.2" y="204.7" width="2.6" height="5.4"/>
<rect x="338.4" y="206.2" width="52" height="2.4"/>
<rect x="338.4" y="204.7" width="2.6" height="5.4"/>
<rect x="387.8" y="204.7" width="2.6" height="5.4"/>
<rect x="338.9" y="204.8" width="2" height="5.2"/>
<rect x="350.7" y="204.8" width="2" height="5.2"/>
<rect x="363.7" y="204.8" width="2" height="5.2"/>
<rect x="341.5" y="204.7" width="3.8" height="5.4"/>
<rect x="354.2" y="204.7" width="3.8" height="5.4"/>
<rect x="369.9" y="204.7" width="3.8" height="5.4"/>
<rect x="395.3" y="206.2" width="15.6" height="2.4"/>
<rect x="395.3" y="204.7" width="2.6" height="5.4"/>
<rect x="408.3" y="204.7" width="2.6" height="5.4"/>
<rect x="420.3" y="206.2" width="10.4" height="2.4"/>
<rect x="420.3" y="204.7" width="2.6" height="5.4"/>
<rect x="428.1" y="204.7" width="2.6" height="5.4"/>
<rect x="436" y="206.2" width="17.1" height="2.4"/>
<rect x="436" y="204.7" width="2.6" height="5.4"/>
<rect x="450.5" y="204.7" width="2.6" height="5.4"/>
<rect x="436" y="204.7" width="3.8" height="5.4"/>
<rect x="449.7" y="204.7" width="3.8" height="5.4"/>
<rect x="517" y="206.2" width="17" height="2.4"/>
<rect x="517" y="204.7" width="2.6" height="5.4"/>
<rect x="531.4" y="204.7" width="2.6" height="5.4"/>
<rect x="590.5" y="206.2" width="12.2" height="2.4"/>
<rect x="590.5" y="204.7" width="2.6" height="5.4"/>
<rect x="600.1" y="204.7" width="2.6" height="5.4"/>
<rect x="345.6" y="222" width="16.4" height="2.4"/>
<rect x="345.6" y="220.5" width="2.6" height="5.4"/>
<rect x="359.4" y="220.5" width="2.6" height="5.4"/>
<rect x="364.9" y="222" width="9.6" height="2.4"/>
<rect x="364.9" y="220.5" width="2.6" height="5.4"/>
<rect x="371.9" y="220.5" width="2.6" height="5.4"/>
<rect x="404.8" y="222" width="85.8" height="2.4"/>
<rect x="404.8" y="220.5" width="2.6" height="5.4"/>
<rect x="488" y="220.5" width="2.6" height="5.4"/>
<rect x="441.8" y="220.6" width="2" height="5.2"/>
<rect x="459.7" y="220.6" width="2" height="5.2"/>
<rect x="467.9" y="220.6" width="2" height="5.2"/>
<rect x="473" y="220.6" width="2" height="5.2"/>
<rect x="479" y="220.6" width="2" height="5.2"/>
<rect x="426.5" y="220.5" width="3.8" height="5.4"/>
<rect x="449.3" y="220.5" width="3.8" height="5.4"/>
<rect x="421.4" y="307.3" width="30.4" height="2.4"/>
<rect x="421.4" y="305.8" width="2.6" height="5.4"/>
<rect x="449.2" y="305.8" width="2.6" height="5.4"/>
<rect x="464.8" y="307.3" width="24.3" height="2.4"/>
<rect x="464.8" y="305.8" width="2.6" height="5.4"/>
<rect x="486.5" y="305.8" width="2.6" height="5.4"/>
<rect x="445.7" y="316.1" width="29.2" height="2.4"/>
<rect x="445.7" y="314.6" width="2.6" height="5.4"/>
<rect x="472.3" y="314.6" width="2.6" height="5.4"/>
<rect x="484.2" y="316.1" width="21.8" height="2.4"/>
<rect x="484.2" y="314.6" width="2.6" height="5.4"/>
<rect x="503.4" y="314.6" width="2.6" height="5.4"/>
<rect x="489.3" y="350.9" width="33" height="2.4"/>
<rect x="489.3" y="349.4" width="2.6" height="5.4"/>
<rect x="519.7" y="349.4" width="2.6" height="5.4"/>
<rect x="539.8" y="351.1" width="35.4" height="2.4"/>
<rect x="539.8" y="349.6" width="2.6" height="5.4"/>
<rect x="572.6" y="349.6" width="2.6" height="5.4"/>
<rect x="339.9" y="379.3" width="14.1" height="2.4"/>
<rect x="339.9" y="377.8" width="2.6" height="5.4"/>
<rect x="351.4" y="377.8" width="2.6" height="5.4"/>
<rect x="389.3" y="379.3" width="35.4" height="2.4"/>
<rect x="389.3" y="377.8" width="2.6" height="5.4"/>
<rect x="422.1" y="377.8" width="2.6" height="5.4"/>
<rect x="390.6" y="377.9" width="2" height="5.2"/>
<rect x="394.7" y="377.9" width="2" height="5.2"/>
<rect x="398.9" y="377.9" width="2" height="5.2"/>
<rect x="402.6" y="377.8" width="3.8" height="5.4"/>
<rect x="442.1" y="379.3" width="16" height="2.4"/>
<rect x="442.1" y="377.8" width="2.6" height="5.4"/>
<rect x="455.5" y="377.8" width="2.6" height="5.4"/>
<rect x="459.4" y="379.3" width="18.4" height="2.4"/>
<rect x="459.4" y="377.8" width="2.6" height="5.4"/>
<rect x="475.2" y="377.8" width="2.6" height="5.4"/>
<rect x="512.5" y="379.3" width="18" height="2.4"/>
<rect x="512.5" y="377.8" width="2.6" height="5.4"/>
<rect x="527.9" y="377.8" width="2.6" height="5.4"/>
<rect x="512.1" y="377.8" width="3.8" height="5.4"/>
<rect x="527.1" y="377.8" width="3.8" height="5.4"/>
<rect x="468.2" y="414" width="17.5" height="2.4"/>
<rect x="468.2" y="412.5" width="2.6" height="5.4"/>
<rect x="483.1" y="412.5" width="2.6" height="5.4"/>
<rect x="592.3" y="414" width="17.1" height="2.4"/>
<rect x="592.3" y="412.5" width="2.6" height="5.4"/>
<rect x="606.8" y="412.5" width="2.6" height="5.4"/>
<rect x="604.2" y="412.6" width="2" height="5.2"/>
<rect x="592.1" y="412.5" width="3.8" height="5.4"/>
<rect x="616.7" y="414" width="28.1" height="2.4"/>
<rect x="616.7" y="412.5" width="2.6" height="5.4"/>
<rect x="642.2" y="412.5" width="2.6" height="5.4"/>
<rect x="621.7" y="412.6" width="2" height="5.2"/>
<rect x="630" y="412.6" width="2" height="5.2"/>
<rect x="633.4" y="412.6" width="2" height="5.2"/>
<rect x="616.4" y="412.5" width="3.8" height="5.4"/>
<rect x="656.5" y="412.4" width="12.6" height="2.4"/>
<rect x="656.5" y="410.9" width="2.6" height="5.4"/>
<rect x="666.5" y="410.9" width="2.6" height="5.4"/>
<rect x="464.4" y="445.1" width="18" height="2.4"/>
<rect x="464.4" y="443.6" width="2.6" height="5.4"/>
<rect x="479.8" y="443.6" width="2.6" height="5.4"/>
<rect x="624.6" y="438.6" width="23.2" height="2.4"/>
<rect x="624.6" y="437.1" width="2.6" height="5.4"/>
<rect x="645.2" y="437.1" width="2.6" height="5.4"/>
<rect x="659.5" y="438.6" width="25.9" height="2.4"/>
<rect x="659.5" y="437.1" width="2.6" height="5.4"/>
<rect x="682.8" y="437.1" width="2.6" height="5.4"/>
<rect x="668.3" y="437.2" width="2" height="5.2"/>
<rect x="659.4" y="437.1" width="3.8" height="5.4"/>
<rect x="393.6" y="565.1" width="34.6" height="2.4"/>
<rect x="393.6" y="563.6" width="2.6" height="5.4"/>
<rect x="425.6" y="563.6" width="2.6" height="5.4"/>
<rect x="419.8" y="563.7" width="2" height="5.2"/>
<rect x="402.8" y="563.6" width="3.8" height="5.4"/>
<rect x="558.9" y="565.1" width="14.5" height="2.4"/>
<rect x="558.9" y="563.6" width="2.6" height="5.4"/>
<rect x="570.8" y="563.6" width="2.6" height="5.4"/>
<rect x="299.6" y="590.7" width="17.9" height="2.4"/>
<rect x="299.6" y="589.2" width="2.6" height="5.4"/>
<rect x="314.9" y="589.2" width="2.6" height="5.4"/>
<rect x="313.9" y="589.2" width="3.8" height="5.4"/>
<rect x="559.8" y="590.9" width="18.5" height="2.4"/>
<rect x="559.8" y="589.4" width="2.6" height="5.4"/>
<rect x="575.7" y="589.4" width="2.6" height="5.4"/>
<rect x="559.7" y="589.4" width="3.8" height="5.4"/>
<rect x="574.6" y="589.4" width="3.8" height="5.4"/>
<rect x="416.3" y="613.9" width="14.3" height="2.4"/>
<rect x="416.3" y="612.4" width="2.6" height="5.4"/>
<rect x="428" y="612.4" width="2.6" height="5.4"/>
<rect x="588.5" y="613.9" width="21.7" height="2.4"/>
<rect x="588.5" y="612.4" width="2.6" height="5.4"/>
<rect x="607.6" y="612.4" width="2.6" height="5.4"/>
<rect x="592.4" y="612.5" width="2" height="5.2"/>
<rect x="603.6" y="612.5" width="2" height="5.2"/>
<rect x="627.5" y="613.9" width="16.5" height="2.4"/>
<rect x="627.5" y="612.4" width="2.6" height="5.4"/>
<rect x="641.4" y="612.4" width="2.6" height="5.4"/>
<rect x="501.5" y="628.5" width="13.7" height="2.4"/>
<rect x="501.5" y="627" width="2.6" height="5.4"/>
<rect x="512.6" y="627" width="2.6" height="5.4"/>
<rect x="501.1" y="627" width="3.8" height="5.4"/>
<rect x="511.8" y="627" width="3.8" height="5.4"/>
<rect x="521.3" y="628.5" width="16.7" height="2.4"/>
<rect x="521.3" y="627" width="2.6" height="5.4"/>
<rect x="535.4" y="627" width="2.6" height="5.4"/>
<rect x="532.1" y="627.1" width="2" height="5.2"/>
<rect x="520.9" y="627" width="3.8" height="5.4"/>
<rect x="534.7" y="627" width="3.8" height="5.4"/>
<rect x="657.3" y="628.8" width="12.1" height="2.4"/>
<rect x="657.3" y="627.3" width="2.6" height="5.4"/>
<rect x="666.8" y="627.3" width="2.6" height="5.4"/>
<rect x="331.3" y="659.1" width="16" height="2.4"/>
<rect x="331.3" y="657.6" width="2.6" height="5.4"/>
<rect x="344.7" y="657.6" width="2.6" height="5.4"/>
<rect x="621.5" y="659.3" width="28.4" height="2.4"/>
<rect x="621.5" y="657.8" width="2.6" height="5.4"/>
<rect x="647.3" y="657.8" width="2.6" height="5.4"/>
<rect x="626.9" y="657.9" width="2" height="5.2"/>
<rect x="633.7" y="657.8" width="3.8" height="5.4"/>
<rect x="640.1" y="657.8" width="3.8" height="5.4"/>
<rect x="379" y="687.7" width="13.9" height="2.4"/>
<rect x="379" y="686.2" width="2.6" height="5.4"/>
<rect x="390.3" y="686.2" width="2.6" height="5.4"/>
<rect x="389.5" y="686.2" width="3.8" height="5.4"/>
<rect x="501.5" y="688" width="28.2" height="2.4"/>
<rect x="501.5" y="686.5" width="2.6" height="5.4"/>
<rect x="527.1" y="686.5" width="2.6" height="5.4"/>
<rect x="513.7" y="686.5" width="3.8" height="5.4"/>
</g>
<g font-family="'Liberation Sans', sans-serif" fill="#000000">
<text x="88.9" y="254.4" font-size="19.4" text-anchor="end">0</text>
<text x="88.9" y="196.6" font-size="19.4" text-anchor="end">0.1</text>
<text x="88.9" y="138.7" font-size="19.4" text-anchor="end">0.2</text>
<text x="88.9" y="80.8" font-size="19.4" text-anchor="end">0.3</text>
<text x="88.9" y="23" font-size="19.4" text-anchor="end">0.4</text>
<text x="90.9" y="486.9" font-size="19.4" text-anchor="end">0</text>
<text x="90.9" y="429.1" font-size="19.4" text-anchor="end">0.1</text>
<text x="90.9" y="371.3" font-size="19.4" text-anchor="end">0.2</text>
<text x="90.9" y="313.5" font-size="19.4" text-anchor="end">0.3</text>
<text x="90.9" y="719" font-size="19.4" text-anchor="end">0</text>
<text x="90.9" y="661.2" font-size="19.4" text-anchor="end">0.1</text>
<text x="90.9" y="603.4" font-size="19.4" text-anchor="end">0.2</text>
<text x="90.9" y="545.6" font-size="19.4" text-anchor="end">0.3</text>
<text x="695" y="253.2" font-size="15.3" textLength="34.7" lengthAdjust="spacingAndGlyphs">1600</text>
<text x="695" y="206.8" font-size="15.3" textLength="34.7" lengthAdjust="spacingAndGlyphs">1800</text>
<text x="695" y="160.3" font-size="15.3" textLength="34.7" lengthAdjust="spacingAndGlyphs">2000</text>
<text x="695" y="113.8" font-size="15.3" textLength="34.7" lengthAdjust="spacingAndGlyphs">2200</text>
<text x="695" y="67.4" font-size="15.3" textLength="34.7" lengthAdjust="spacingAndGlyphs">2400</text>
<text x="695" y="21" font-size="15.3" textLength="34.7" lengthAdjust="spacingAndGlyphs">2600</text>
<text x="695" y="486.1" font-size="15.3" textLength="34.7" lengthAdjust="spacingAndGlyphs">1600</text>
<text x="695" y="439.6" font-size="15.3" textLength="34.7" lengthAdjust="spacingAndGlyphs">1800</text>
<text x="695" y="393.1" font-size="15.3" textLength="34.7" lengthAdjust="spacingAndGlyphs">2000</text>
<text x="695" y="346.6" font-size="15.3" textLength="34.7" lengthAdjust="spacingAndGlyphs">2200</text>
<text x="695" y="300.1" font-size="15.3" textLength="34.7" lengthAdjust="spacingAndGlyphs">2400</text>
<text x="695" y="718.3" font-size="15.3" textLength="34.7" lengthAdjust="spacingAndGlyphs">1600</text>
<text x="695" y="672" font-size="15.3" textLength="34.7" lengthAdjust="spacingAndGlyphs">1800</text>
<text x="695" y="625.6" font-size="15.3" textLength="34.7" lengthAdjust="spacingAndGlyphs">2000</text>
<text x="695" y="579.3" font-size="15.3" textLength="34.7" lengthAdjust="spacingAndGlyphs">2200</text>
<text x="695" y="532.9" font-size="15.3" textLength="34.7" lengthAdjust="spacingAndGlyphs">2400</text>
<text x="101.9" y="744.3" font-size="16.8" text-anchor="middle" textLength="45.5" lengthAdjust="spacingAndGlyphs">11000</text>
<text x="154.9" y="744.3" font-size="16.8" text-anchor="middle" textLength="46.7" lengthAdjust="spacingAndGlyphs">10000</text>
<text x="207.8" y="744.3" font-size="16.8" text-anchor="middle" textLength="37.4" lengthAdjust="spacingAndGlyphs">9000</text>
<text x="260.8" y="744.3" font-size="16.8" text-anchor="middle" textLength="37.4" lengthAdjust="spacingAndGlyphs">8000</text>
<text x="313.8" y="744.3" font-size="16.8" text-anchor="middle" textLength="37.4" lengthAdjust="spacingAndGlyphs">7000</text>
<text x="366.7" y="744.3" font-size="16.8" text-anchor="middle" textLength="37.4" lengthAdjust="spacingAndGlyphs">6000</text>
<text x="419.7" y="744.3" font-size="16.8" text-anchor="middle" textLength="37.4" lengthAdjust="spacingAndGlyphs">5000</text>
<text x="472.6" y="744.3" font-size="16.8" text-anchor="middle" textLength="37.4" lengthAdjust="spacingAndGlyphs">4000</text>
<text x="525.6" y="744.3" font-size="16.8" text-anchor="middle" textLength="37.4" lengthAdjust="spacingAndGlyphs">3000</text>
<text x="578.6" y="744.3" font-size="16.8" text-anchor="middle" textLength="37.4" lengthAdjust="spacingAndGlyphs">2000</text>
<text x="631.5" y="744.3" font-size="16.8" text-anchor="middle" textLength="37.4" lengthAdjust="spacingAndGlyphs">1000</text>
<text x="684.5" y="744.3" font-size="16.8" text-anchor="middle" textLength="9.3" lengthAdjust="spacingAndGlyphs">0</text>
<text x="120.9" y="39.5" font-size="26.3" textLength="108.8" lengthAdjust="spacingAndGlyphs">St Michel</text>
<text x="122.4" y="295.3" font-size="26.3" textLength="93.0" lengthAdjust="spacingAndGlyphs">Aussois</text>
<text x="119.5" y="531.5" font-size="26.3" textLength="149.0" lengthAdjust="spacingAndGlyphs">Lanslevillard</text>
<text x="398.3" y="774.6" font-size="21" text-anchor="middle" textLength="182.3" lengthAdjust="spacingAndGlyphs">Calendar years BP</text>
<text transform="translate(50.3 376.2) rotate(-90)" font-size="20.6" text-anchor="middle" textLength="346.9" lengthAdjust="spacingAndGlyphs">Cumulative probability relative value</text>
<text transform="translate(752.9 377.4) rotate(90)" font-size="21" text-anchor="middle" textLength="145.6" lengthAdjust="spacingAndGlyphs">Altitude (m asl)</text>
</g>
</svg>
</body></html>
